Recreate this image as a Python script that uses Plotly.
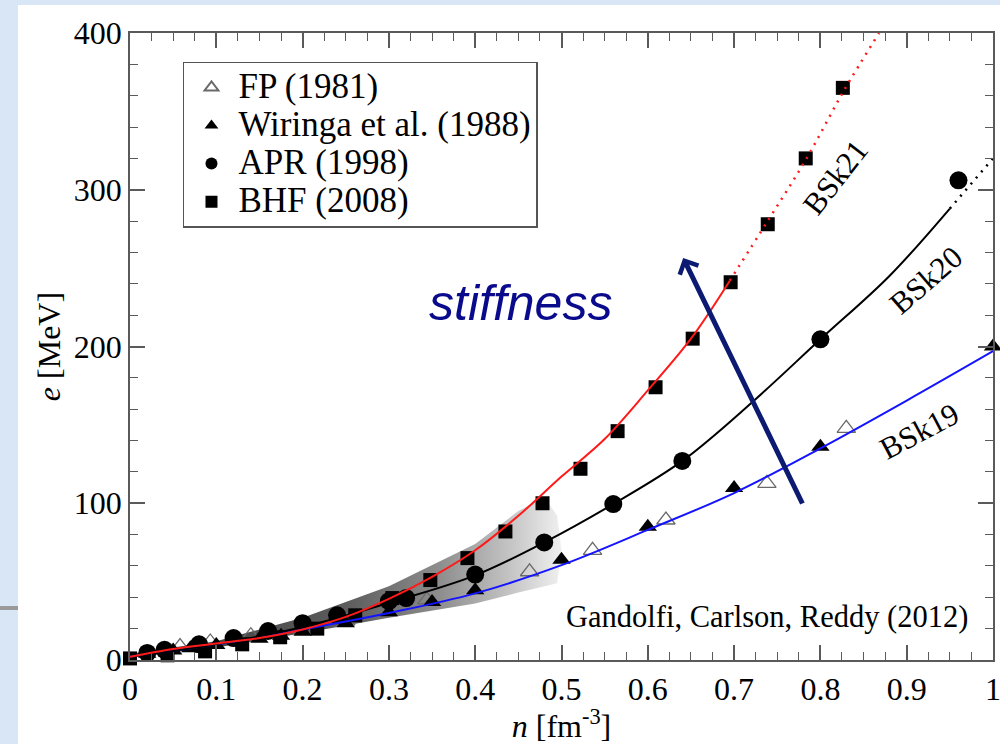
import plotly.graph_objects as go

# ---------------- data ----------------
FP_n = [0.04, 0.058, 0.08, 0.093, 0.14, 0.2, 0.25, 0.344, 0.463, 0.536, 0.621, 0.738, 0.83]
FP_e = [6.5, 8.5, 10.0, 11.5, 15.5, 20.0, 25.0, 38.3, 56.3, 70.0, 89.3, 112.7, 147.8]

WFF_n = [0.02, 0.05, 0.07, 0.1, 0.125, 0.15, 0.175, 0.2, 0.25, 0.3, 0.35, 0.4, 0.5, 0.6, 0.7, 0.8, 1.0]
WFF_e = [4.0, 6.0, 7.5, 9.5, 11.5, 13.5, 15.5, 18.0, 23.5, 30.5, 37.0, 44.5, 64.0, 85.0, 109.7, 136.0, 200.0]

APR_n = [0.02, 0.04, 0.08, 0.12, 0.16, 0.2, 0.24, 0.3, 0.32, 0.4, 0.48, 0.56, 0.64, 0.8, 0.96]
APR_e = [4.5, 6.5, 10.0, 14.0, 18.5, 23.5, 28.5, 37.5, 39.5, 54.5, 75.0, 99.5, 127.0, 204.6, 306.0]

BHF_n = [0.0, 0.0435, 0.087, 0.13, 0.174, 0.217, 0.261, 0.304, 0.348, 0.391, 0.435, 0.478,
         0.522, 0.565, 0.609, 0.652, 0.696, 0.739, 0.783, 0.826]
BHF_e = [1.0, 3.0, 5.5, 10.0, 14.5, 20.0, 28.5, 39.5, 51.0, 65.0, 82.0, 100.0,
         122.0, 146.0, 174.0, 205.0, 241.0, 278.0, 320.0, 365.0]

BSk21_n = [0.0, 0.05, 0.1, 0.15, 0.2, 0.25, 0.3, 0.35, 0.4, 0.45, 0.5, 0.55, 0.6, 0.65, 0.695]
BSk21_e = [2.0, 7.0, 10.5, 14.0, 19.5, 27.5, 39.0, 53.0, 70.0, 92.0, 117.0, 141.0, 172.0, 205.0, 242.0]
BSk21_ext_n = [0.695, 0.74, 0.784, 0.827, 0.868]
BSk21_ext_e = [242.0, 281.0, 320.0, 363.0, 400.0]

BSk20_n = [0.0, 0.1, 0.2, 0.3, 0.4, 0.48, 0.56, 0.64, 0.72, 0.8, 0.88, 0.95]
BSk20_e = [2.0, 10.0, 21.0, 36.5, 54.0, 75.0, 99.5, 127.0, 164.0, 204.6, 245.0, 288.0]
BSk20_ext_n = [0.95, 1.0]
BSk20_ext_e = [288.0, 320.0]

BSk19_n = [0.0, 0.1, 0.2, 0.3, 0.4, 0.5, 0.6, 0.7, 0.8, 0.9, 1.0]
BSk19_e = [2.0, 10.0, 19.5, 30.0, 42.5, 60.5, 83.0, 106.5, 135.0, 165.5, 197.0]

# QMC band (Gandolfi, Carlson, Reddy 2012)
band_upper_n = [0.0, 0.1, 0.2, 0.3, 0.4, 0.45, 0.48, 0.495]
band_upper_e = [4.0, 12.0, 27.0, 47.0, 74.0, 95.0, 104.0, 92.0]
band_lower_n = [0.5, 0.495, 0.45, 0.4, 0.3, 0.2, 0.1, 0.0]
band_lower_e = [70.0, 49.0, 43.0, 36.0, 27.0, 17.0, 8.0, 2.0]

x_tickvals = [0, 0.1, 0.2, 0.3, 0.4, 0.5, 0.6, 0.7, 0.8, 0.9, 1.0]
x_ticktext = ["0", "0.1", "0.2", "0.3", "0.4", "0.5", "0.6", "0.7", "0.8", "0.9", "1"]
y_tickvals = [0, 100, 200, 300, 400]
y_ticktext = ["0", "100", "200", "300", "400"]

legend_names = ["FP (1981)", "Wiringa et al. (1988)", "APR (1998)", "BHF (2008)"]

# ---------------- figure ----------------
SERIF = "Liberation Serif, Times New Roman, serif"


def big(s):
    return '<span style="font-size:35px">' + s + '</span>'


fig = go.Figure()

fig.add_trace(go.Scatter(
    x=band_upper_n + band_lower_n, y=band_upper_e + band_lower_e,
    mode="lines", line=dict(width=0), fill="toself",
    fillgradient=dict(type="horizontal",
                      colorscale=[[0, "#3a3a3a"], [0.5, "#5c5c5c"], [0.72, "#8e8e8e"],
                                  [0.88, "#c4c4c4"], [1, "#f0f0f0"]]),
    showlegend=False, hoverinfo="skip"))

fig.add_trace(go.Scatter(x=FP_n, y=FP_e, mode="markers", name=big(legend_names[0]),
                         marker=dict(symbol="triangle-up-open", size=16, color="#6a6a6a",
                                     line=dict(width=1.3)), cliponaxis=False))
fig.add_trace(go.Scatter(x=WFF_n, y=WFF_e, mode="markers", name=big(legend_names[1]),
                         marker=dict(symbol="triangle-up", size=16, color="black"),
                         cliponaxis=False))
fig.add_trace(go.Scatter(x=APR_n, y=APR_e, mode="markers", name=big(legend_names[2]),
                         marker=dict(symbol="circle", size=18, color="black"),
                         cliponaxis=False))
fig.add_trace(go.Scatter(x=BHF_n, y=BHF_e, mode="markers", name=big(legend_names[3]),
                         marker=dict(symbol="square", size=14, color="black"),
                         cliponaxis=False))

fig.add_trace(go.Scatter(x=BSk19_n, y=BSk19_e, mode="lines", line=dict(color="#1414ff", width=2, shape="spline"),
                         showlegend=False, hoverinfo="skip"))
fig.add_trace(go.Scatter(x=BSk20_n, y=BSk20_e, mode="lines", line=dict(color="black", width=2, shape="spline"),
                         showlegend=False, hoverinfo="skip"))
fig.add_trace(go.Scatter(x=BSk20_ext_n, y=BSk20_ext_e, mode="lines",
                         line=dict(color="black", width=2.5, dash="2px,6px"),
                         showlegend=False, hoverinfo="skip"))
fig.add_trace(go.Scatter(x=BSk21_n, y=BSk21_e, mode="lines", line=dict(color="#ff1a1a", width=2, shape="spline"),
                         showlegend=False, hoverinfo="skip"))
fig.add_trace(go.Scatter(x=BSk21_ext_n, y=BSk21_ext_e, mode="lines",
                         line=dict(color="#ff1a1a", width=2.5, dash="2px,6px", shape="spline"),
                         showlegend=False, hoverinfo="skip"))

axis_common = dict(
    showline=True, linecolor="#5a5a5a", linewidth=1.5, mirror="ticks",
    ticks="inside", ticklen=15, tickwidth=1.5, tickcolor="#5a5a5a",
    showgrid=False, zeroline=False, ticklabeloverflow="allow",
    tickfont=dict(family=SERIF, size=32, color="black"),
)

fig.update_xaxes(range=[0, 1], tickvals=x_tickvals, ticktext=x_ticktext,
                 minor=dict(ticks="inside", ticklen=8, dtick=0.025, tickwidth=1.2, tickcolor="#5a5a5a"),
                 title=dict(text="<i>n</i> [fm<sup>-3</sup>]", font=dict(family=SERIF, size=32, color="black"),
                            standoff=6),
                 **axis_common)
fig.update_yaxes(range=[0, 400], tickvals=y_tickvals, ticktext=y_ticktext,
                 minor=dict(ticks="inside", ticklen=8, dtick=20, tickwidth=1.2, tickcolor="#5a5a5a"),
                 title=dict(text="<i>e</i> [MeV]", font=dict(family=SERIF, size=32, color="black"),
                            standoff=4),
                 **axis_common)

fig.update_layout(
    width=1000, height=744,
    margin=dict(l=130, r=7, t=33, b=84, autoexpand=False),
    paper_bgcolor="#d8e6f5", plot_bgcolor="white",
    showlegend=True,
    legend=dict(x=0.0614, y=0.954, xanchor="left", yanchor="top",
                bgcolor="white", bordercolor="#555555", borderwidth=1.5,
                font=dict(family=SERIF, size=27, color="black"),
                itemsizing="constant", itemwidth=44, tracegroupgap=0),
    shapes=[
        dict(type="rect", xref="paper", yref="paper", x0=-0.1298, x1=1.05, y0=-0.2, y1=1.0447,
             fillcolor="white", line=dict(width=0), layer="below"),
        dict(type="line", xref="paper", yref="paper", x0=-0.1506, x1=-0.1298, y0=0.0829, y1=0.0829,
             line=dict(color="#9a9a9a", width=4)),
    ],
    annotations=[
        dict(x=0.817, y=308, xref="x", yref="y", text="BSk21", showarrow=False, textangle=-52,
             font=dict(family=SERIF, size=31, color="black")),
        dict(x=0.922, y=242, xref="x", yref="y", text="BSk20", showarrow=False, textangle=-41,
             font=dict(family=SERIF, size=31, color="black")),
        dict(x=0.914, y=146, xref="x", yref="y", text="BSk19", showarrow=False, textangle=-28,
             font=dict(family=SERIF, size=31, color="black")),
        dict(x=0.973, y=27.4, xref="x", yref="y", text="Gandolfi, Carlson, Reddy (2012)",
             showarrow=False, xanchor="right", font=dict(family=SERIF, size=30.5, color="black")),
        dict(x=0.452, y=228, xref="x", yref="y", text="<i>stiffness</i>", showarrow=False,
             font=dict(family="Liberation Sans, Arial, sans-serif", size=50, color="#0a0a8c")),
        dict(x=0.641, y=256.5, xref="x", yref="y", ax=0.780, ay=98.9, axref="x", ayref="y",
             text="", showarrow=True, arrowhead=4, arrowsize=0.8, arrowwidth=5, arrowcolor="#0d1a72"),
    ],
)

fig.write_html("out.html", config={"displayModeBar": False},
               post_script="document.body.style.margin='0';")
